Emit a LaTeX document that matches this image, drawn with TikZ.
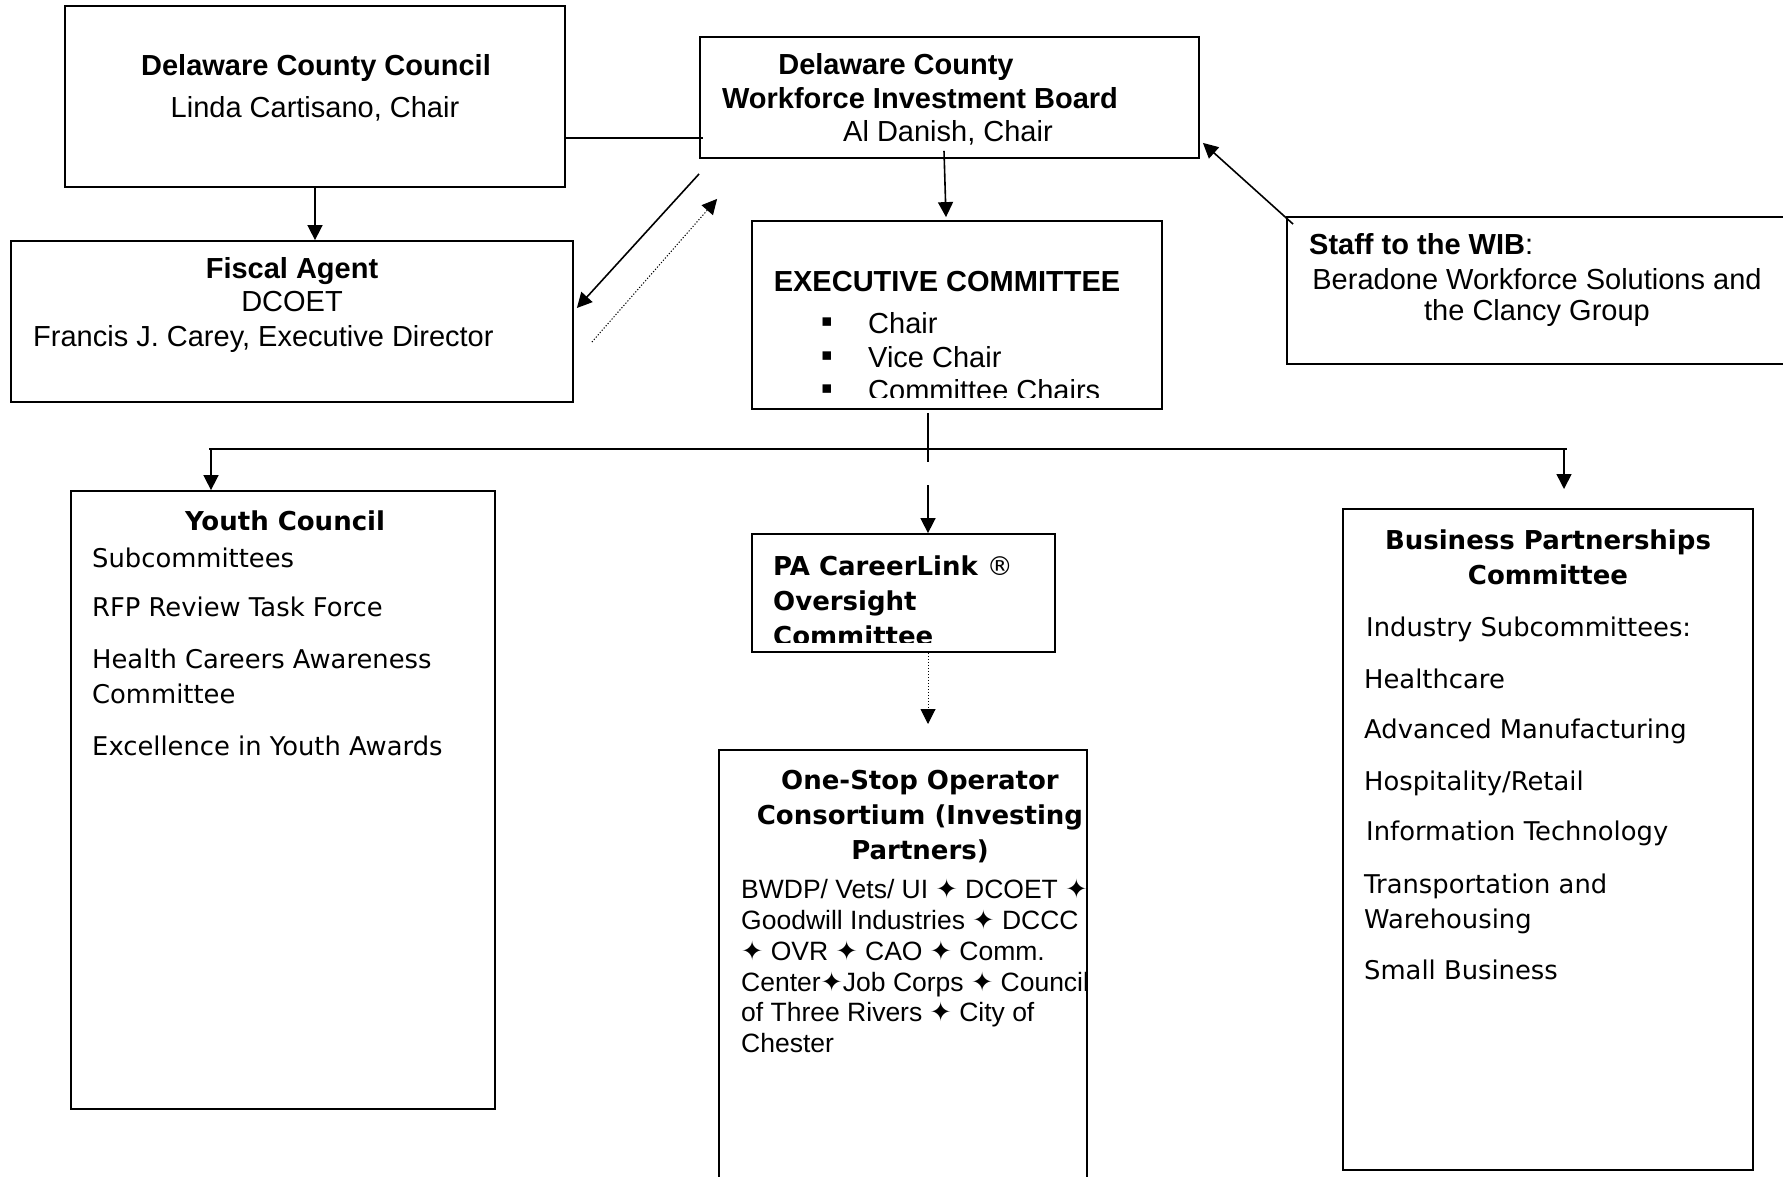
\documentclass[tikz,border=0pt]{standalone}
\usepackage{fontspec}
\setmainfont{Liberation Sans}
\newfontfamily\verdfont{DejaVu Sans}
\usetikzlibrary{positioning,arrows.meta}
\tikzstyle{box}=[rectangle, draw, line width=1.8pt, inner sep=0pt]
\tikzstyle{ln}=[line width=1.6pt]
\tikzstyle{arr}=[line width=1.6pt, -{Triangle[length=15pt,width=15pt]}]
\tikzstyle{dotarr}=[line width=1pt, dash pattern=on 1.2pt off 1.8pt, -{Triangle[length=15pt,width=15pt]}]
\tikzstyle{ar}=[font=\fontsize{29}{33}\selectfont, inner sep=0pt]
\tikzstyle{arb}=[font=\fontsize{29}{33}\selectfont\bfseries, inner sep=0pt]
\tikzstyle{os}=[font=\fontsize{26.5}{30}\selectfont, inner sep=0pt]
\tikzstyle{vd}=[font=\verdfont\fontsize{25.8}{31}\selectfont, inner sep=0pt]
\tikzstyle{vdb}=[font=\verdfont\bfseries\fontsize{26}{31}\selectfont, inner sep=0pt]
\newcommand{\dstar}{{\verdfont ✦}}
\newcommand{\sqbul}{{\verdfont\fontsize{17}{20}\selectfont ▪}}

\begin{document}
\begin{tikzpicture}[x=1pt,y=-1pt]
\clip (0,0) rectangle (1783,1176);
% boxes
\node[box, minimum width=500pt, minimum height=181pt] (dcc) at (315,96.5) {};
\node[box, minimum width=562pt, minimum height=161pt] (fiscal) at (292,321.5) {};
\node[box, minimum width=499pt, minimum height=121pt] (wib) at (949.5,97.5) {};
\node[box, minimum width=410pt, minimum height=188pt] (exec) at (957,315) {};
\node[box, minimum width=513pt, minimum height=147pt] (staff) at (1543.5,290.5) {};
\node[box, minimum width=424pt, minimum height=618pt] (youth) at (283,800) {};
\node[box, minimum width=303pt, minimum height=118pt] (pa) at (903.5,593) {};
\node[box, minimum width=368pt, minimum height=450pt] (osoc) at (903,975) {};
\node[box, minimum width=410pt, minimum height=661pt] (bpc) at (1548,839.5) {};

% county council
\node[arb, anchor=base] (dcct) at (316,75.5) {Delaware County Council};
\node[ar, anchor=base] (dccn) at (315,117.5) {Linda Cartisano, Chair};
% fiscal agent
\node[arb, anchor=base] (fisct) at (292,278.5) {Fiscal Agent};
\node[ar, anchor=base] (fiscd) at (292,311.5) {DCOET};
\node[ar, anchor=base west] (fiscn) at (33,346.5) {Francis J. Carey, Executive Director};
% board
\node[arb, anchor=base] (wibt1) at (896,74.5) {Delaware County};
\node[arb, anchor=base] (wibt2) at (920,108.5) {Workforce Investment Board};
\node[ar, anchor=base] (wibn) at (948,141) {Al Danish, Chair};
% executive committee
\node[arb, anchor=base] (exect) at (947,291.5) {EXECUTIVE COMMITTEE};
\begin{scope}
\clip (exec.north west) rectangle ([yshift=12pt]exec.south east);
\node[anchor=base, inner sep=0pt] (b1) at (827,326.5) {\sqbul};
\node[anchor=base, inner sep=0pt] (b2) at (827,360) {\sqbul};
\node[anchor=base, inner sep=0pt] (b3) at (827,393.5) {\sqbul};
\node[ar, anchor=base west] (e1) at (868,333.5) {Chair};
\node[ar, anchor=base west] (e2) at (868,367) {Vice Chair};
\node[ar, anchor=base west] (e3) at (868,400.5) {Committee Chairs};
\end{scope}
% staff
\node[ar, anchor=base west] (stt) at (1309,254) {\textbf{Staff to the WIB}:};
\node[ar, anchor=base] (st1) at (1537,289.5) {Beradone Workforce Solutions and};
\node[ar, anchor=base] (st2) at (1537,320) {the Clancy Group};
% youth council
\node[vdb, anchor=base] (yct) at (285,530) {Youth Council};
\node[vd, anchor=base west] (yc1) at (92,567.5) {Subcommittees};
\node[vd, anchor=base west] (yc2) at (92,616.5) {RFP Review Task Force};
\node[vd, anchor=base west] (yc3) at (92,668.5) {Health Careers Awareness};
\node[vd, anchor=base west] (yc4) at (92,703.5) {Committee};
\node[vd, anchor=base west] (yc5) at (92,755.5) {Excellence in Youth Awards};
% careerlink
\begin{scope}
\clip (pa.north west) rectangle ([yshift=10pt]pa.south east);
\node[vdb, anchor=base west] (pa1) at (773,575) {PA CareerLink {\mdseries ®}};
\node[vdb, anchor=base west] (pa2) at (773,610) {Oversight};
\node[vdb, anchor=base west] (pa3) at (773,645) {Committee};
\end{scope}
% one-stop
\node[vdb, anchor=base] (os1) at (920,789) {One-Stop Operator};
\node[vdb, anchor=base] (os2) at (920,824) {Consortium (Investing};
\node[vdb, anchor=base] (os3) at (920,859) {Partners)};
\node[os, anchor=base west] (osl1) at (741,898.5) {BWDP/ Vets/ UI \dstar{} DCOET \dstar};
\node[os, anchor=base west] (osl2) at (741,929.5) {Goodwill Industries \dstar{} DCCC};
\node[os, anchor=base west] (osl3) at (741,960) {\dstar{} OVR \dstar{} CAO \dstar{} Comm.};
\node[os, anchor=base west] (osl4) at (741,991) {Center\dstar Job Corps \dstar{} Council};
\node[os, anchor=base west] (osl5) at (741,1021.5) {of Three Rivers \dstar{} City of};
\node[os, anchor=base west] (osl6) at (741,1052) {Chester};
% business partnerships
\node[vdb, anchor=base] (bpt1) at (1548,549.5) {Business Partnerships};
\node[vdb, anchor=base] (bpt2) at (1548,584.5) {Committee};
\node[vd, anchor=base west] (bp1) at (1366,636.5) {Industry Subcommittees:};
\node[vd, anchor=base west] (bp2) at (1364,688) {Healthcare};
\node[vd, anchor=base west] (bp3) at (1364,738) {Advanced Manufacturing};
\node[vd, anchor=base west] (bp4) at (1364,790) {Hospitality/Retail};
\node[vd, anchor=base west] (bp5) at (1366,840.5) {Information Technology};
\node[vd, anchor=base west] (bp6) at (1364,893) {Transportation and};
\node[vd, anchor=base west] (bp7) at (1364,928) {Warehousing};
\node[vd, anchor=base west] (bp8) at (1364,979.5) {Small Business};

% connectors
\coordinate (lk) at (703,138);
\coordinate (busl) at (209,449);
\coordinate (busr) at (1567,449);
\coordinate (busm) at (928,462);
\coordinate (pain) at (928,485);
\coordinate (bpin) at (1564,489);
\coordinate (osin) at (928,724);
\draw[arr] (dcc.south) -- (dcc.south |- fiscal.north);
\draw[ln] (dcc.east |- lk) -- (lk);
\draw[arr] ([xshift=-5.5pt,yshift=8pt]wib.south) -- ([xshift=-11pt,yshift=3pt]exec.north);
\draw[arr] ([yshift=-15pt]wib.south west) -- ([xshift=3pt,yshift=13.5pt]fiscal.east);
\draw[dotarr] ([xshift=18pt,yshift=-20.5pt]fiscal.east) -- ([xshift=18pt,yshift=-40pt]wib.south west);
\draw[arr] ([xshift=7pt,yshift=-8pt]staff.north west) -- ([xshift=3pt,yshift=16pt]wib.south east);
\draw[ln] (busm |- exec.south) ++(0,3) -- (busm);
\draw[ln] (busl) -- (busr);
\draw[arr] ([xshift=2pt]busl) -- ([xshift=2pt]busl |- youth.north);
\draw[arr] (pain) -- (pain |- pa.north);
\draw[arr] (bpin |- busr) -- (bpin);
\draw[dotarr] (osin |- pa.south) -- (osin);
\end{tikzpicture}
\end{document}
